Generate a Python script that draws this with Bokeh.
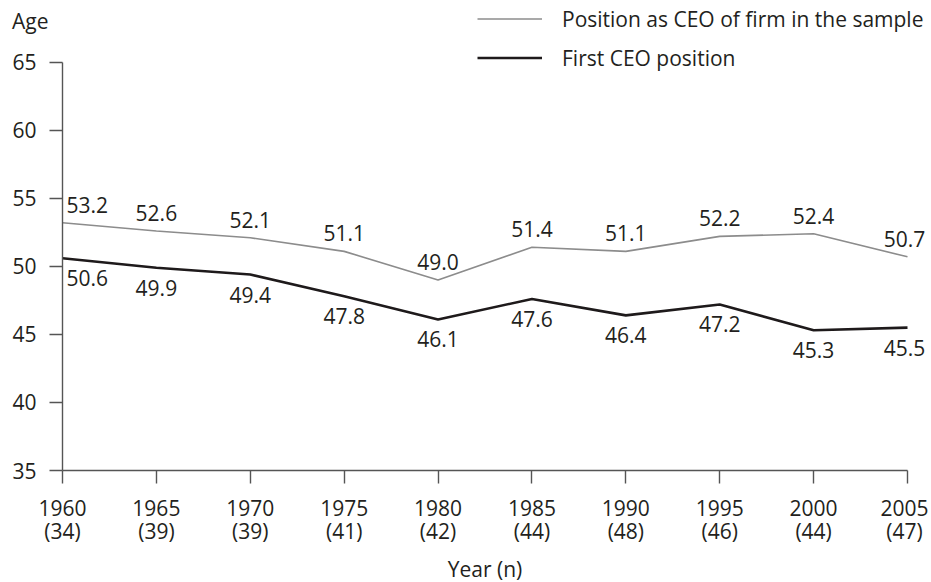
from bokeh.plotting import figure
from bokeh.models import (ColumnDataSource, Range1d, FixedTicker, SingleIntervalTicker,
                          Legend, LegendItem, LabelSet, LinearAxis)
from bokeh.core.properties import value
from bokeh.embed import file_html
from bokeh.resources import INLINE

years = [1960, 1965, 1970, 1975, 1980, 1985, 1990, 1995, 2000, 2005]
n_obs = [34, 39, 39, 41, 42, 44, 48, 46, 44, 47]
ceo_sample = [53.2, 52.6, 52.1, 51.1, 49.0, 51.4, 51.1, 52.2, 52.4, 50.7]
first_ceo = [50.6, 49.9, 49.4, 47.8, 46.1, 47.6, 46.4, 47.2, 45.3, 45.5]
series_names = ["Position as CEO of firm in the sample", "First CEO position"]
y_title = "Age"
x_title = "Year (n)"
y_ticks_min, y_ticks_max = 35, 65

FONT = "Open Sans"
TXT = "#231f20"
AX = "#555555"
FS = "21px"

# layout: frame extends above the y-axis top and right of the last year so that
# annotations (legend, end labels) are not clipped; axes are bounded to the data span.
PX_PER_YEAR = 845 / 45.0
PX_PER_UNIT = 408.3 / 30.0
FRAME_W, FRAME_H = 866, 470
x_end = years[0] + FRAME_W / PX_PER_YEAR
y_end = y_ticks_min + FRAME_H / PX_PER_UNIT
AGE_Y = y_ticks_max + 41.7 / PX_PER_UNIT

p = figure(frame_width=FRAME_W, frame_height=FRAME_H, output_backend="svg", toolbar_location=None,
           x_range=Range1d(years[0], x_end), y_range=Range1d(y_ticks_min, y_end),
           min_border_left=62, min_border_top=0, min_border_right=0, min_border_bottom=0)
p.outline_line_color = None
p.xgrid.visible = False
p.ygrid.visible = False
p.background_fill_color = "white"
p.border_fill_color = "white"

def label_source(vals):
    last = len(years) - 1
    xo = [4 if i == 0 else (-3 if i == last else 0) for i in range(len(years))]
    al = ["left" if i == 0 else "center" for i in range(len(years))]
    return ColumnDataSource(dict(x=years, y=vals, text=[f"{v:.1f}" for v in vals], xo=xo, al=al))

r1 = p.line(years, ceo_sample, line_color="#8c8c8c", line_width=1.6)
r2 = p.line(years, first_ceo, line_color="#1e1a1b", line_width=2.6)

for vals, off in ((ceo_sample, 18), (first_ceo, -20)):
    p.add_layout(LabelSet(source=label_source(vals), x="x", y="y", text="text",
                          x_offset="xo", y_offset=off, text_align="al",
                          text_baseline="middle", text_font=value(FONT),
                          text_font_size=value(FS), text_color=value(TXT)))

def style_axis(ax):
    ax.axis_line_color = AX
    ax.axis_line_width = 1.4
    ax.major_tick_line_color = AX
    ax.major_tick_line_width = 1.4
    ax.major_tick_out = 13
    ax.major_tick_in = 0
    ax.minor_tick_line_color = None
    ax.major_label_text_font = FONT
    ax.major_label_text_font_size = FS
    ax.major_label_text_color = TXT

style_axis(p.xaxis[0])
style_axis(p.yaxis[0])

p.yaxis.ticker = SingleIntervalTicker(interval=5)
p.yaxis.bounds = (y_ticks_min, y_ticks_max)
p.yaxis.major_label_standoff = 13
p.xaxis.ticker = FixedTicker(ticks=years)
p.xaxis.bounds = (years[0], years[-1])
p.xaxis.major_label_overrides = {y: f"{y}\n({n})" for y, n in zip(years, n_obs)}
p.xaxis.major_label_standoff = 10
p.xaxis.major_label_text_line_height = 0.83

# x title centred under the year axis
mid_year = (years[0] + years[-1]) / 2
xt = LinearAxis(ticker=FixedTicker(ticks=[mid_year]), major_label_overrides={mid_year: x_title},
                axis_line_color=None, major_tick_line_color=None, minor_tick_line_color=None,
                major_tick_out=0, major_tick_in=0, major_label_standoff=7,
                major_label_text_font=FONT, major_label_text_font_size=FS,
                major_label_text_color=TXT)
p.add_layout(xt, "below")

# y title at the top-left
yt = LinearAxis(ticker=FixedTicker(ticks=[AGE_Y]), major_label_overrides={AGE_Y: y_title},
                axis_line_color=None, major_tick_line_color=None, minor_tick_line_color=None,
                major_tick_out=0, major_tick_in=0, major_label_standoff=-39,
                major_label_text_font=FONT, major_label_text_font_size=FS,
                major_label_text_color=TXT)
p.add_layout(yt, "left")

legend = Legend(items=[LegendItem(label=series_names[0], renderers=[r1]),
                       LegendItem(label=series_names[1], renderers=[r2])],
                location=(415, 398), orientation="vertical",
                glyph_width=65, glyph_height=29, label_height=29, label_standoff=20,
                spacing=10, padding=0, margin=0, border_line_color=None,
                background_fill_alpha=0, label_text_font=FONT, label_text_font_size=FS,
                label_text_color=TXT)
p.add_layout(legend, "center")

open("out.html", "w").write(file_html(p, INLINE))
